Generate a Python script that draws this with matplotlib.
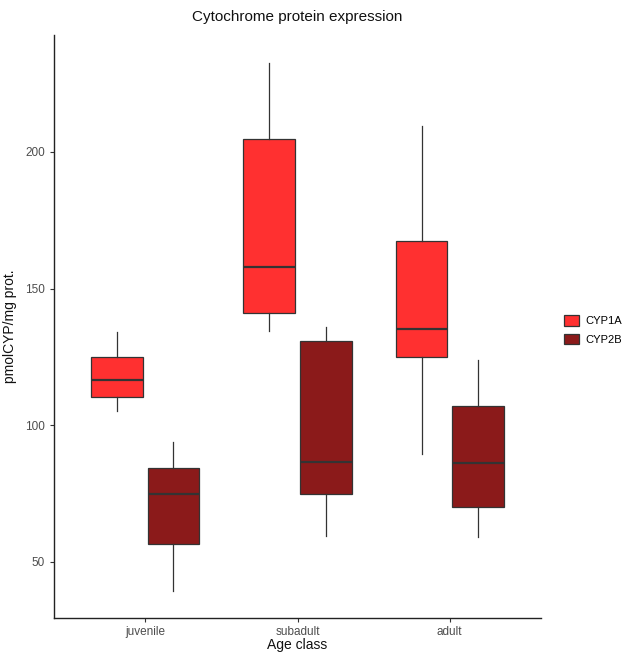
import matplotlib
matplotlib.use("Agg")
import matplotlib.pyplot as plt
from matplotlib.patches import Patch

plt.rcParams['font.family'] = ['Liberation Sans', 'DejaVu Sans']

categories = ["juvenile", "subadult", "adult"]
series = ["CYP1A", "CYP2B"]
colors = {"CYP1A": "#FF3030", "CYP2B": "#8B1A1A"}

# whisker low, Q1, median, Q3, whisker high
cyp1a_low = [105.2, 134.5, 89.4]
cyp1a_q1 = [110.5, 141.2, 125.0]
cyp1a_med = [116.5, 157.9, 135.4]
cyp1a_q3 = [125.1, 204.7, 167.5]
cyp1a_high = [134.2, 232.7, 209.5]

cyp2b_low = [39.4, 59.5, 59.1]
cyp2b_q1 = [56.6, 75.0, 70.1]
cyp2b_med = [74.8, 86.7, 86.2]
cyp2b_q3 = [84.3, 130.8, 107.0]
cyp2b_high = [94.0, 136.1, 123.9]

yticks = [50, 100, 150, 200]

data = {
    "CYP1A": (cyp1a_low, cyp1a_q1, cyp1a_med, cyp1a_q3, cyp1a_high),
    "CYP2B": (cyp2b_low, cyp2b_q1, cyp2b_med, cyp2b_q3, cyp2b_high),
}

fig = plt.figure(figsize=(6.25, 6.52), dpi=100)
ax = fig.add_axes([0.0864, 0.0521, 0.7792, 0.8942])

offsets = {"CYP1A": -0.185, "CYP2B": 0.185}
width = 0.34
edge = "#333333"
for s in series:
    low, q1, med, q3, high = data[s]
    stats = []
    for i in range(len(categories)):
        stats.append(dict(whislo=low[i], q1=q1[i], med=med[i], q3=q3[i], whishi=high[i], fliers=[]))
    pos = [i + 1 + offsets[s] for i in range(len(categories))]
    ax.bxp(stats, positions=pos, widths=width, patch_artist=True, showcaps=False,
           showfliers=False, manage_ticks=False,
           boxprops=dict(facecolor=colors[s], edgecolor=edge, linewidth=0.9),
           medianprops=dict(color=edge, linewidth=1.6),
           whiskerprops=dict(color=edge, linewidth=0.9))

ax.set_xlim(0.4, 3.6)
ax.set_ylim(29.5, 242.8)
ax.set_xticks([1, 2, 3])
ax.set_xticklabels(categories)
ax.set_yticks(yticks)
for sp in ["top", "right"]:
    ax.spines[sp].set_visible(False)
for sp in ["left", "bottom"]:
    ax.spines[sp].set_color("#222222")
    ax.spines[sp].set_linewidth(1.0)
ax.tick_params(axis="both", colors="#333333", labelcolor="#4D4D4D", labelsize=8.5, length=3, width=0.8)
ax.tick_params(axis="x", pad=2.5)

ax.set_title("Cytochrome protein expression", fontsize=11, color="#111111", pad=10)
ax.set_xlabel("Age class", fontsize=10, color="#111111")
ax.xaxis.set_label_coords(0.5, -0.0345)
ax.set_ylabel("pmolCYP/mg prot.", fontsize=10, color="#111111", labelpad=6)

handles = [Patch(facecolor=colors[s], edgecolor=edge, linewidth=0.9, label=s) for s in series]
fig.legend(handles=handles, loc="center left", bbox_to_anchor=(0.896, 0.494), frameon=False,
           fontsize=8, handlelength=1.3, handleheight=1.1, labelspacing=0.7, handletextpad=0.6,
           borderpad=0.2, borderaxespad=0.2)

fig.savefig("out.png", dpi=100)
